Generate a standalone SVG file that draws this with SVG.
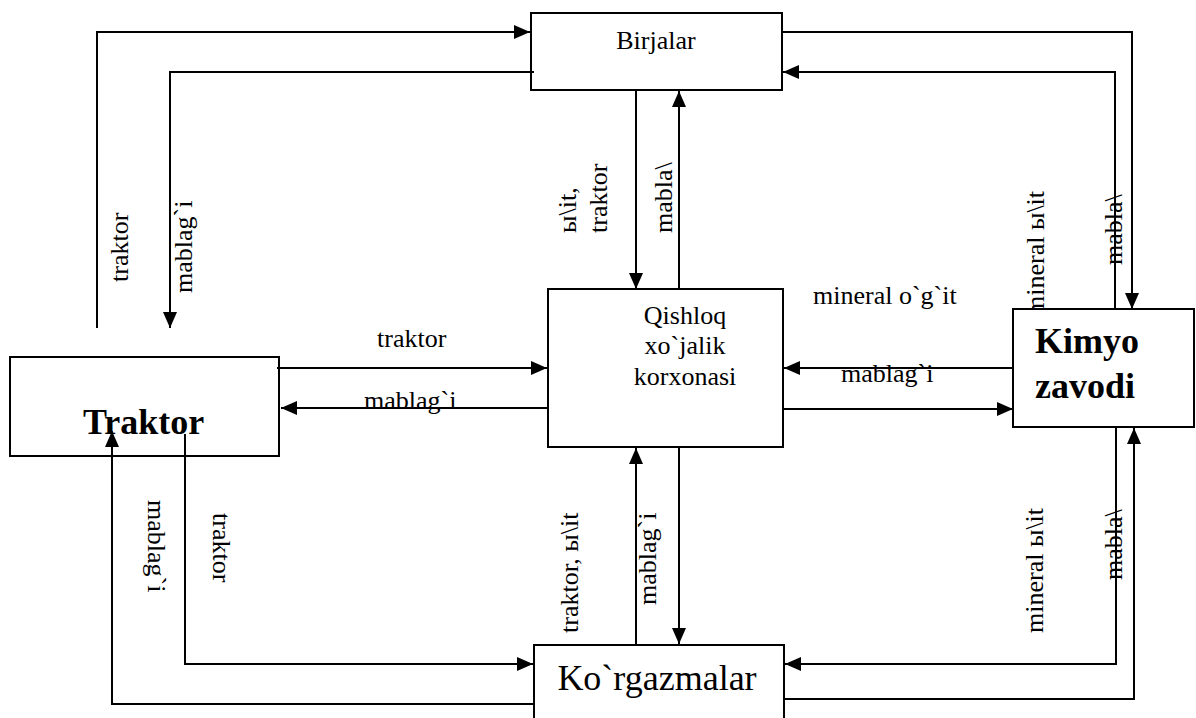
<svg xmlns="http://www.w3.org/2000/svg" width="1196" height="718" viewBox="0 0 1196 718">
<defs>
<marker id="arr" markerWidth="16" markerHeight="14" refX="16" refY="7" orient="auto" markerUnits="userSpaceOnUse"><path d="M0,0 L16,7 L0,14 z" fill="#000"/></marker>
<style>
.box{fill:#fff;stroke:#000;stroke-width:2}
.ln{fill:none;stroke:#000;stroke-width:2;marker-end:url(#arr)}
text{font-family:"Liberation Serif","Times New Roman",serif;fill:#000}
.lb{font-size:26px}
.big{font-size:36px}
.bold{font-size:36px;font-weight:bold}
</style>
</defs>
<rect width="1196" height="718" fill="#fff"/>
<g id="birjalar"><rect class="box" x="531" y="13" width="251" height="77"/><text class="lb" x="656" y="49" text-anchor="middle">Birjalar</text></g>
<g id="qishloq"><rect class="box" x="548" y="289" width="235" height="158"/><text class="lb" text-anchor="middle"><tspan x="685" y="324">Qishloq</tspan><tspan x="685" y="354">xo`jalik</tspan><tspan x="685" y="385">korxonasi</tspan></text></g>
<g id="traktor"><rect class="box" x="10" y="357" width="269" height="99"/><text class="bold" x="83" y="434">Traktor</text></g>
<g id="korgazmalar"><rect class="box" x="534" y="645" width="250" height="80"/><text class="big" x="657" y="690" text-anchor="middle">Ko`rgazmalar</text></g>
<g id="connectors">
<polyline class="ln" points="97,328 97,32 530,32"/>
<polyline class="ln" points="534,72 170,72 170,328"/>
<polyline class="ln" points="636,91 636,289"/>
<polyline class="ln" points="679,289 679,91"/>
<polyline class="ln" points="782,32 1132,32 1132,309"/>
<polyline class="ln" points="1115,309 1115,72 783,72"/>
<polyline class="ln" points="277,368 547,368"/>
<polyline class="ln" points="548,408 281,408"/>
<polyline class="ln" points="1013,368 784,368"/>
<polyline class="ln" points="784,409 1013,409"/>
<polyline class="ln" points="636,645 636,448"/>
<polyline class="ln" points="679,447 679,644"/>
<polyline class="ln" points="185,434 185,664 533,664"/>
<polyline class="ln" points="534,704 112,704 112,431"/>
<polyline class="ln" points="1116,427 1116,664 785,664"/>
<polyline class="ln" points="784,699 1134,699 1134,428"/>
<text class="lb" x="377" y="347">traktor</text>
<text class="lb" x="364" y="409">mablag`i</text>
<text class="lb" x="841" y="382">mablag`i</text>
<text class="lb" x="813" y="304">mineral o`g`it</text>
<text class="lb" transform="translate(128,282) rotate(-90)">traktor</text>
<text class="lb" transform="translate(192,293) rotate(-90)">mablag`i</text>
<text class="lb" transform="translate(576,233) rotate(-90)"><tspan x="0" y="0">ы\it,</tspan><tspan x="0" y="31">traktor</tspan></text>
<text class="lb" transform="translate(672,233) rotate(-90)">mabla\</text>
<text class="lb" transform="translate(1044,316) rotate(-90)">mineral ы\it</text>
<text class="lb" transform="translate(1122,265) rotate(-90)">mabla\</text>
<text class="lb" transform="translate(578,633) rotate(-90)">traktor, ы\it</text>
<text class="lb" transform="translate(656,605) rotate(-90)">mablag`i</text>
<text class="lb" transform="translate(1043,633) rotate(-90)">mineral ы\it</text>
<text class="lb" transform="translate(1122,580) rotate(-90)">mabla\</text>
<text class="lb" transform="translate(148,500) rotate(90)">mablag`i</text>
<text class="lb" transform="translate(213,513) rotate(90)">traktor</text>
</g>
<g id="kimyo"><rect class="box" x="1013" y="309" width="181" height="118"/><text class="bold"><tspan x="1035" y="353">Kimyo</tspan><tspan x="1035" y="398">zavodi</tspan></text></g>
</svg>
